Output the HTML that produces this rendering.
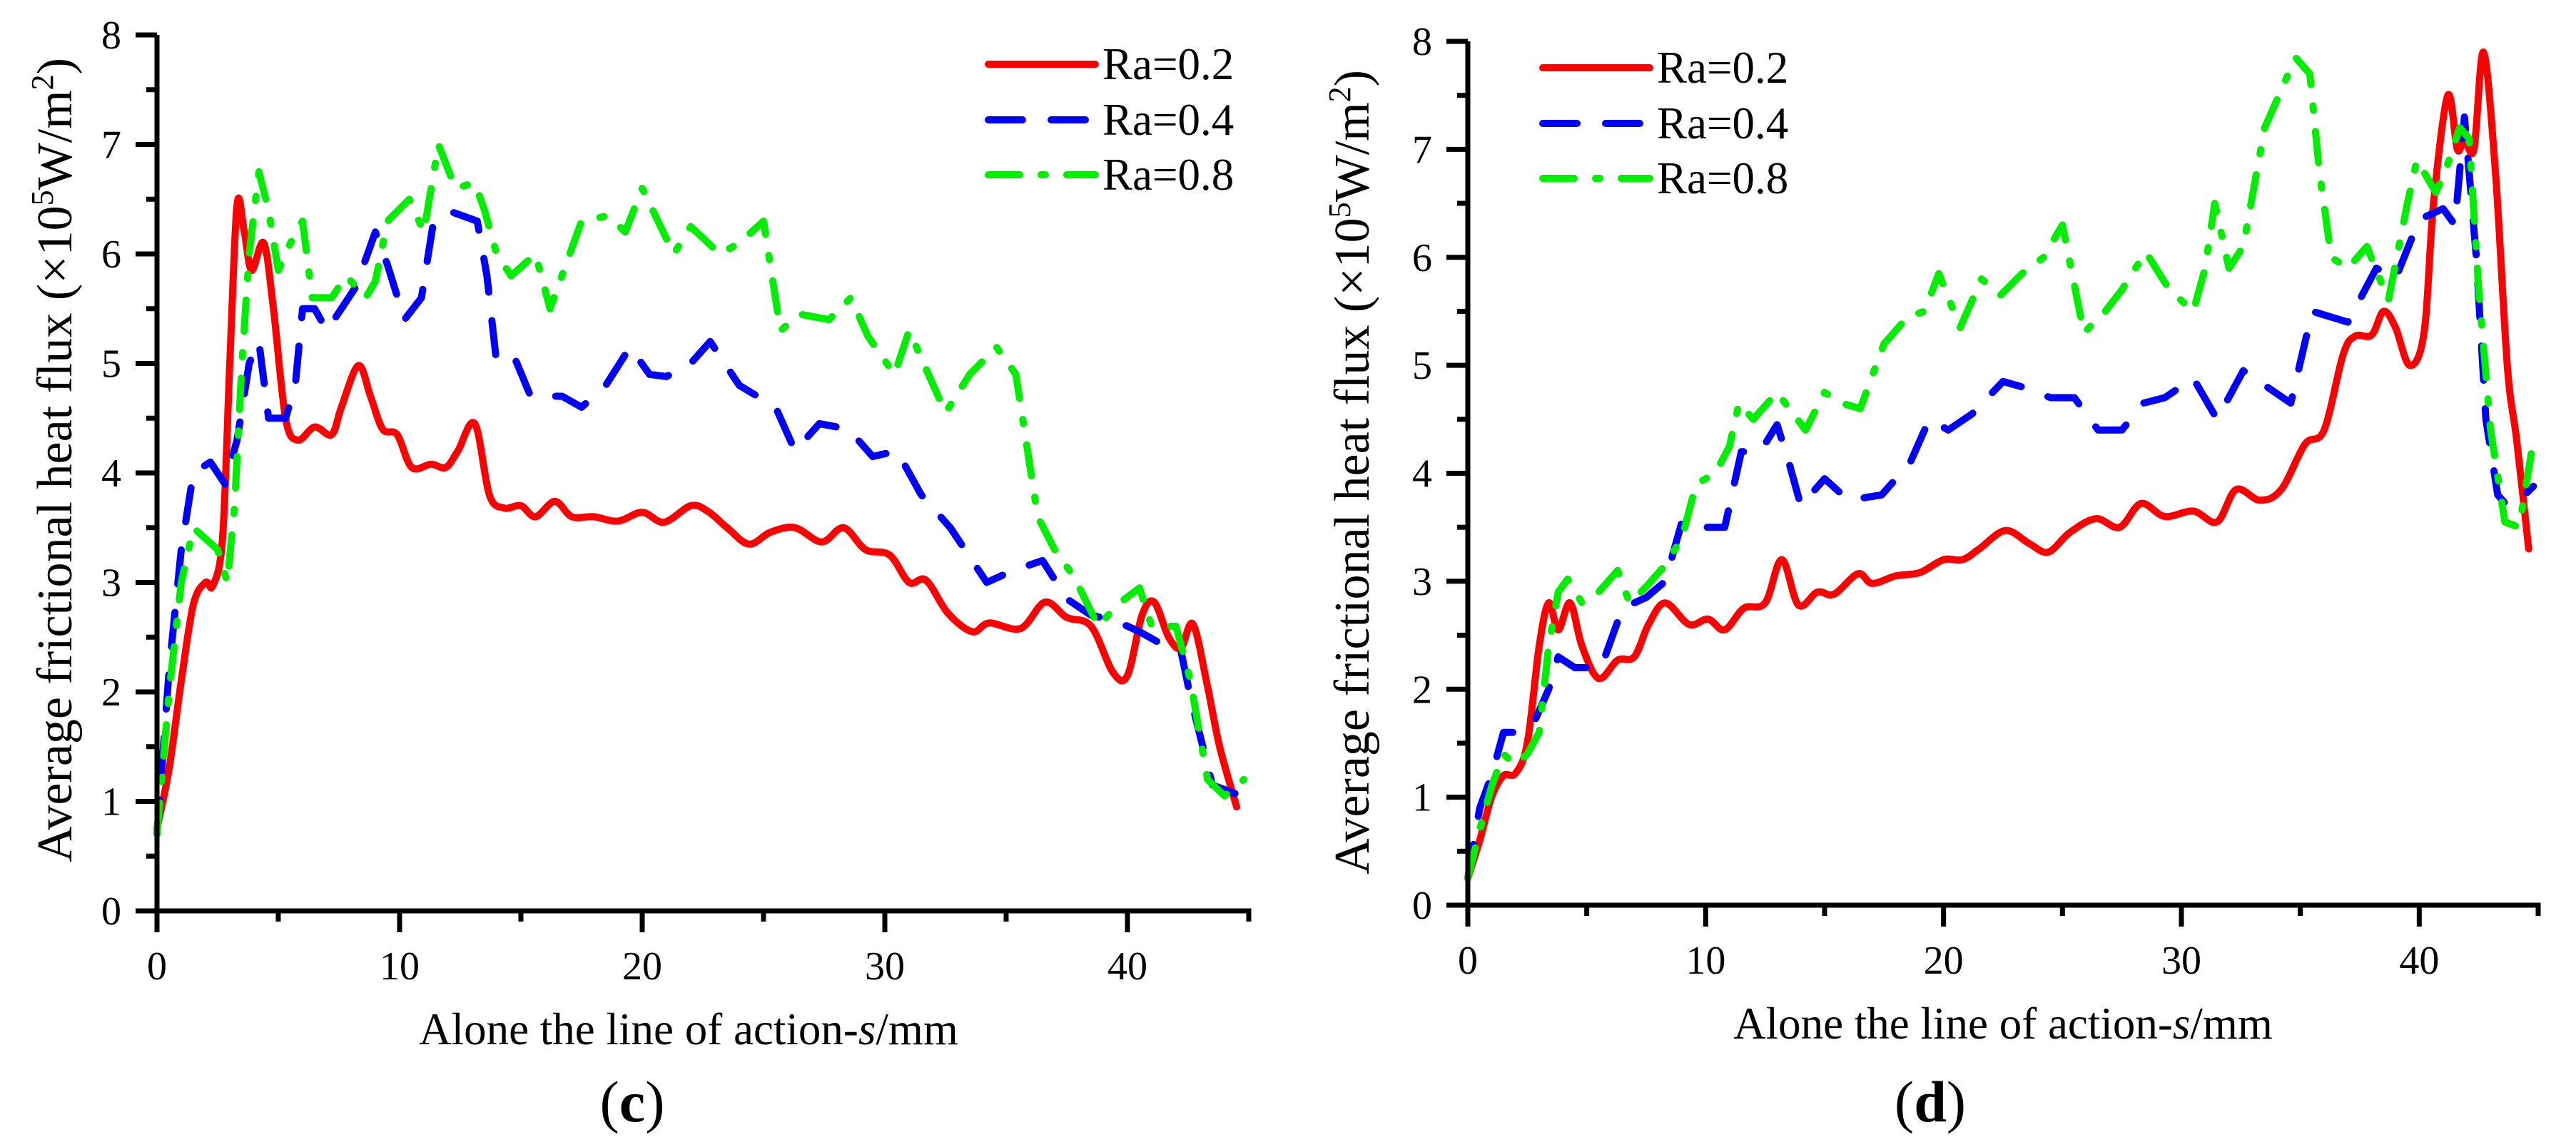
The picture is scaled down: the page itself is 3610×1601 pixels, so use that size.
<!DOCTYPE html>
<html><head><meta charset="utf-8"><style>
html,body{margin:0;padding:0;background:#fff;}
svg{display:block;font-family:"Liberation Serif","Times New Roman",serif;}
</style></head><body>
<svg id="chart" width="3610" height="1601" viewBox="0 0 3610 1601" xmlns="http://www.w3.org/2000/svg"></svg>
<script>
const xTicks=[0,10,20,30,40];
const yTicks=[0,1,2,3,4,5,6,7,8];
const seriesNames=["Ra=0.2","Ra=0.4","Ra=0.8"];
// panel (c)
const cRedX=[0,0.5,1,1.5,2,2.3,2.7,3.0,3.3,3.6,3.9,4.4,4.8,5.3,5.8,6.5,7.2,7.6,8.3,8.8,9.3,9.9,10.5,11.3,11.9,12.4,13.1,13.7,14.3,15.0,15.6,16.4,17.1,18,19,20,20.9,22,22.7,23.5,24.4,25.3,26.3,27.4,28.3,29.2,30.2,31,31.7,32.6,33.6,34.3,35.6,36.6,37.5,38.5,39.4,40,40.6,41.1,41.7,42.2,42.7,43.3,43.8,44.5];
const cRedY=[0.75,1.3,2.1,2.8,3.0,2.97,3.4,5.0,6.45,6.2,5.85,6.1,5.5,4.5,4.3,4.42,4.35,4.6,4.98,4.7,4.4,4.35,4.05,4.08,4.05,4.2,4.45,3.8,3.68,3.7,3.6,3.74,3.6,3.6,3.56,3.64,3.55,3.7,3.65,3.5,3.35,3.46,3.5,3.37,3.5,3.3,3.25,3.0,3.02,2.72,2.55,2.63,2.58,2.82,2.68,2.6,2.18,2.15,2.7,2.82,2.5,2.4,2.62,2.05,1.5,0.95];
const cBlueX=[0,0.5,1.0,1.5,2.2,2.8,3.3,3.8,4.2,4.6,5.3,5.7,6.0,6.5,7.0,7.6,8.2,9.0,9.5,10.2,10.9,11.4,12.2,13.2,13.6,14.0,14.8,15.4,16.7,17.5,18.5,19.5,20.3,21.0,22.0,22.8,24.0,25.5,26.3,27.3,28.5,29.5,30.5,31.5,32.7,34.2,35.2,36.5,37.5,38.5,39.5,40.5,41.3,42.2,42.6,43.5,44.7];
const cBlueY=[0.7,2.2,3.3,4.0,4.1,3.9,4.3,5.0,5.2,4.5,4.5,4.8,5.5,5.5,5.3,5.5,5.7,6.2,5.9,5.4,5.6,6.3,6.38,6.3,5.8,5.0,5.02,4.7,4.7,4.6,4.8,5.15,4.9,4.88,5.0,5.2,4.8,4.6,4.2,4.45,4.4,4.15,4.2,3.8,3.5,3.0,3.1,3.2,2.85,2.7,2.65,2.55,2.45,2.38,1.95,1.15,1.05];
const cGreenX=[0,0.5,1.0,1.5,2.0,2.5,2.9,3.2,3.5,3.8,4.2,4.6,5.0,5.5,6.0,6.4,7.2,7.8,8.6,9.0,9.5,10.4,11.0,11.6,12.3,13.1,13.5,14.0,14.6,15.6,16.2,17.5,18.6,19.3,20,21.3,22.0,23.2,24,25.0,25.7,26.5,27.7,28.6,29.3,30.4,31.0,32.5,33.5,34.6,35.4,36.3,37.0,37.8,38.8,39.6,40.5,41.0,42.0,42.6,43.3,44.0,44.8];
const cGreenY=[0.7,2.0,3.0,3.5,3.4,3.3,3.0,3.7,5.0,6.0,6.75,6.4,5.85,6.1,6.3,5.6,5.6,5.8,5.6,5.75,6.3,6.5,6.2,7.0,6.6,6.65,6.4,6.0,5.8,6.0,5.5,6.3,6.35,6.2,6.6,6.0,6.25,6.0,6.1,6.3,5.3,5.45,5.4,5.6,5.25,4.9,5.3,4.55,4.9,5.15,4.9,3.6,3.3,3.05,2.6,2.8,2.95,2.6,2.6,2.1,1.2,1.05,1.2];
// panel (d)
const dRedX=[0,0.5,1,1.5,2.0,2.5,3.0,3.4,3.8,4.3,4.8,5.5,6.3,7.0,7.6,8.3,9.3,10.1,10.8,11.6,12.5,13.2,13.9,14.7,15.4,16.4,17.0,18,19,20,20.8,21.5,22.6,23.6,24.4,25.3,26.4,27.4,28.3,29.3,30.5,31.5,32.3,33.3,34.2,35.2,36.0,36.8,37.3,38.0,38.5,39.0,39.6,40.2,40.6,41.2,41.6,41.9,42.3,42.7,43.2,43.7,44.1,44.6];
const dRedY=[0.25,0.6,1.0,1.2,1.22,1.5,2.4,2.8,2.55,2.8,2.4,2.1,2.27,2.3,2.6,2.8,2.6,2.65,2.55,2.75,2.8,3.2,2.78,2.9,2.88,3.07,2.98,3.05,3.08,3.2,3.2,3.3,3.47,3.35,3.27,3.45,3.58,3.5,3.72,3.6,3.65,3.55,3.85,3.75,3.85,4.27,4.4,5.1,5.27,5.28,5.5,5.35,5.0,5.3,6.5,7.5,7.0,7.1,7.0,7.9,6.8,5.0,4.3,3.3];
const dBlueX=[0,0.5,1.0,1.5,2.2,2.8,3.4,3.8,4.5,5.6,6.5,7.5,8.3,9.0,10.0,10.8,11.5,12.3,13.0,13.5,14.0,15.0,16.0,17.4,18.6,19.4,20.2,21.2,22.5,23.3,24.5,25.5,26.5,27.5,28.4,29.3,30.5,31.5,32.6,33.6,34.6,35.5,37.0,38.2,39.0,40.0,41.0,41.5,41.9,42.4,42.8,43.3,43.7,44.2,44.8];
const dBlueY=[0.25,0.9,1.2,1.6,1.6,1.7,2.0,2.3,2.2,2.2,2.75,2.85,3.0,3.55,3.5,3.5,4.2,4.2,4.45,4.1,3.7,3.95,3.75,3.8,4.1,4.5,4.4,4.55,4.85,4.8,4.7,4.7,4.4,4.4,4.65,4.7,4.88,4.5,4.95,4.8,4.65,5.5,5.4,5.9,5.8,6.35,6.45,6.3,7.3,6.0,4.5,3.8,3.7,3.75,3.88];
const dGreenX=[0,0.5,1.0,1.5,2.0,2.5,3.0,3.4,3.8,4.2,4.8,5.5,6.3,6.8,7.5,8.3,9.0,9.6,10.4,11.0,11.4,12.0,13.0,14.2,15.0,15.7,16.5,17.5,18.5,19.2,19.8,20.7,21.6,22.4,23.3,24.2,25.0,25.9,26.8,27.5,28.5,29.5,30.5,31.0,31.4,32.0,32.6,33.5,34.3,34.8,35.4,35.8,36.3,37.0,37.8,38.7,39.5,39.9,40.7,41.1,41.7,42.1,42.5,43.0,43.6,44.2,44.8];
const dGreenY=[0.25,0.7,1.1,1.4,1.3,1.4,1.6,2.4,2.9,3.02,2.8,2.9,3.1,2.8,2.95,3.15,3.4,3.9,4.0,4.25,4.65,4.5,4.75,4.4,4.75,4.65,4.6,5.2,5.45,5.5,5.85,5.35,5.8,5.65,5.85,6.0,6.3,5.3,5.5,5.7,6.05,5.7,5.5,5.9,6.5,5.9,6.1,7.2,7.6,7.85,7.7,6.8,6.0,5.9,6.1,5.6,6.5,6.9,6.6,6.8,7.2,7.1,5.7,4.4,3.55,3.5,4.3];

const NS="http://www.w3.org/2000/svg";
const svg=document.getElementById('chart');
function mk(tag,attrs,parent){const e=document.createElementNS(NS,tag);for(const k in attrs)e.setAttribute(k,attrs[k]);(parent||svg).appendChild(e);return e;}

const panels=[
 {id:'c',x0:220,x1:1750,y0:1277,y1:49,xmax:45,titleX:75,titleY:645,labX:965,capX:886,legX:1385,legY:[90,168,245],
  series:[[cRedX,cRedY],[cBlueX,cBlueY],[cGreenX,cGreenY]]},
 {id:'d',x0:2057,x1:3557,y0:1269,y1:58,xmax:45,titleX:1893,titleY:662,labX:2807,capX:2705,legX:2162,legY:[95,173,250],
  series:[[dRedX,dRedY],[dBlueX,dBlueY],[dGreenX,dGreenY]]}
];
const colors=['#ff0000','#0000ff','#00ee00'];
const dashes=['none','48 40','44 30 6 30'];

function smoothPath(pts){
  let d='M'+pts[0][0].toFixed(1)+','+pts[0][1].toFixed(1);
  for(let i=0;i<pts.length-1;i++){
    const p0=pts[Math.max(0,i-1)],p1=pts[i],p2=pts[i+1],p3=pts[Math.min(pts.length-1,i+2)];
    const c1=[p1[0]+(p2[0]-p0[0])/6,p1[1]+(p2[1]-p0[1])/6];
    const c2=[p2[0]-(p3[0]-p1[0])/6,p2[1]-(p3[1]-p1[1])/6];
    d+=' C'+c1[0].toFixed(1)+','+c1[1].toFixed(1)+' '+c2[0].toFixed(1)+','+c2[1].toFixed(1)+' '+p2[0].toFixed(1)+','+p2[1].toFixed(1);
  }
  return d;
}

panels.forEach(p=>{
  const g=mk('g',{});
  
  
  const sx=v=>p.x0+(p.x1-p.x0)*v/p.xmax;
  const sy=v=>p.y0+(p.y1-p.y0)*v/8;
  p.series.forEach((s,k)=>{
    const pts=s[0].map((x,i)=>[sx(x),sy(s[1][i])]);
    const d=k===0?smoothPath(pts):'M'+pts.map(q=>q[0].toFixed(1)+','+q[1].toFixed(1)).join(' L');
    const path=mk('path',{d:d,fill:'none',stroke:colors[k],'stroke-width':10,'stroke-linecap':'round','stroke-linejoin':'round','stroke-dasharray':dashes[k]},g);
    
    
  });
  const ax=mk('path',{d:`M${p.x0},${p.y1} H${p.x0-30} M${p.x0},${p.y1} V${p.y0} H${p.x1} V${p.y0+15}`,fill:'none',stroke:'#000','stroke-width':7},g);
  
  
  for(let v=0;v<=8;v+=0.5){
    const major=Number.isInteger(v);
    mk('line',{x1:p.x0,x2:p.x0-(major?30:15),y1:sy(v),y2:sy(v),stroke:'#000','stroke-width':7},g);
  }
  yTicks.forEach(v=>{
    const t=mk('text',{x:p.x0-50,y:sy(v)+19,'text-anchor':'end','font-size':56},g);
    t.textContent=v;
    
    
  });
  for(let v=0;v<=45;v+=5){
    const major=v%10===0;
    mk('line',{x1:sx(v),x2:sx(v),y1:p.y0,y2:p.y0+(major?30:15),stroke:'#000','stroke-width':7},g);
  }
  xTicks.forEach(v=>{
    const t=mk('text',{x:sx(v),y:p.y0+96,'text-anchor':'middle','font-size':56},g);
    t.textContent=v;
    
    
  });
  const xt=mk('text',{x:p.labX,y:p.y0+187,'text-anchor':'middle','font-size':63},g);
  xt.innerHTML='Alone the line of action-<tspan font-style="italic">s</tspan>/mm';
  
  
  const yt=mk('text',{x:0,y:0,'text-anchor':'middle','font-size':70,transform:`translate(${p.titleX+25},${p.titleY}) rotate(-90)`},g);
  yt.innerHTML='Average frictional heat flux (×10<tspan font-size="44" dy="-26">5</tspan><tspan dy="26">W/m</tspan><tspan font-size="44" dy="-26">2</tspan><tspan dy="26">)</tspan>';
  
  
  const cap=mk('text',{x:p.capX,y:1572,'text-anchor':'middle','font-size':82},g);
  cap.innerHTML='(<tspan font-weight="bold">'+p.id+'</tspan>)';
  
  
  seriesNames.forEach((n,k)=>{
    const lg=mk('g',{},g);
    
    
    mk('line',{x1:p.legX,x2:p.legX+150,y1:p.legY[k],y2:p.legY[k],stroke:colors[k],'stroke-width':10,'stroke-linecap':'round','stroke-dasharray':dashes[k]},lg);
    const t=mk('text',{x:p.legX+160,y:p.legY[k]+21,'font-size':63},lg);
    t.textContent=n;
  });
});
</script>
</body></html>
